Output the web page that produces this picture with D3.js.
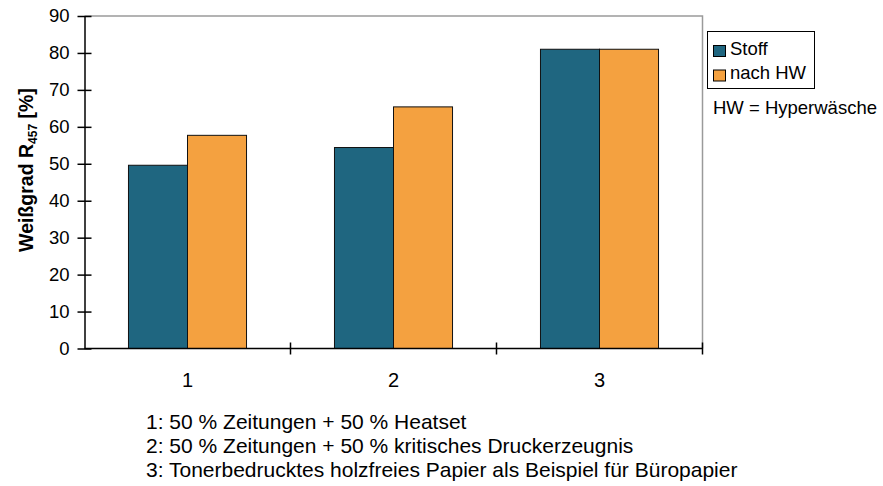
<!DOCTYPE html>
<html>
<head>
<meta charset="utf-8">
<script src="https://cdn.jsdelivr.net/npm/d3@7"></script>
<style>
  html, body { margin: 0; padding: 0; background: #fff; }
  svg { display: block; font-family: "Liberation Sans", Arial, sans-serif; }
</style>
</head>
<body>
<svg id="chart" width="883" height="486"></svg>
<script>
// Sample groups and measured brightness values
const categories = ["1", "2", "3"];
const seriesNames = ["Stoff", "nach HW"];
const stoff = [49.6, 54.4, 81];
const nachHW = [57.7, 65.4, 81];
const yTicks = [0, 10, 20, 30, 40, 50, 60, 70, 80, 90];
const footnotes = [
  "1: 50 % Zeitungen + 50 % Heatset",
  "2: 50 % Zeitungen + 50 % kritisches Druckerzeugnis",
  "3: Tonerbedrucktes holzfreies Papier als Beispiel für Büropapier"
];
const colors = ["#1F6680", "#F4A140"];

const svg = d3.select("#chart");
const plotLeft = 84.5, plotRight = 702.5, plotTop = 16, plotBottom = 348.5;

const x = d3.scaleBand().domain(categories).range([plotLeft, plotRight]).paddingInner(0).paddingOuter(0);
const inner = d3.scaleBand().domain(seriesNames).range([0, x.bandwidth()]).paddingOuter(0.745).paddingInner(0);
const y = d3.scaleLinear().domain([0, 90]).range([plotBottom, plotTop]);

// plot frame (top and right in gray)
svg.append("path")
  .attr("d", `M${plotLeft},${plotTop}H${plotRight}V${plotBottom}`)
  .attr("fill", "none").attr("stroke", "#9a9a9a").attr("stroke-width", 1.5);

// bars
const rows = categories.map((c, i) => ({ c, vals: [stoff[i], nachHW[i]] }));
const g = svg.append("g");
rows.forEach(r => {
  r.vals.forEach((v, j) => {
    g.append("rect")
      .attr("x", x(r.c) + inner(seriesNames[j]))
      .attr("y", y(v))
      .attr("width", inner.bandwidth())
      .attr("height", y(0) - y(v))
      .attr("fill", colors[j])
      .attr("stroke", "#111").attr("stroke-width", 1);
  });
});

// y axis with crossing ticks
const yAxis = svg.append("g").attr("transform", `translate(${plotLeft},0)`)
  .call(d3.axisLeft(y).tickValues(yTicks).tickSize(7).tickPadding(8).tickSizeOuter(0));
yAxis.select(".domain").attr("stroke", "#000").attr("stroke-width", 1.5);
yAxis.selectAll(".tick line").attr("x2", 7).attr("x1", -7).attr("stroke", "#000").attr("stroke-width", 1.5);
yAxis.selectAll(".tick text").attr("font-size", 18.5).attr("fill", "#000")
  .attr("font-family", "Liberation Sans, Arial, sans-serif").attr("x", -15);

// x axis: ticks at category boundaries, labels centered
const xAxis = svg.append("g").attr("transform", `translate(0,${plotBottom})`);
xAxis.append("line").attr("x1", plotLeft).attr("x2", plotRight).attr("stroke", "#000").attr("stroke-width", 1.5);
const bounds = categories.map(c => x(c)).concat([x(categories[categories.length - 1]) + x.bandwidth()]);
xAxis.selectAll("line.tk").data(bounds.slice(1)).join("line").attr("class", "tk")
  .attr("x1", d => d).attr("x2", d => d).attr("y1", -6).attr("y2", 6)
  .attr("stroke", "#000").attr("stroke-width", 1.5);
xAxis.selectAll("text").data(categories).join("text")
  .attr("x", d => x(d) + x.bandwidth() / 2).attr("y", 38)
  .attr("text-anchor", "middle").attr("font-size", 20).text(d => d);

// y axis title with subscript
const title = svg.append("text")
  .attr("transform", "translate(33,170) rotate(-90)")
  .attr("text-anchor", "middle").attr("font-size", 19.5).attr("font-weight", "bold");
title.append("tspan").text("Weißgrad R");
title.append("tspan").attr("font-size", 12).attr("dy", 4).text("457");
title.append("tspan").attr("dy", -4).text(" [%]");

// legend
const lg = svg.append("g");
lg.append("rect").attr("x", 707.5).attr("y", 31.5).attr("width", 107).attr("height", 57)
  .attr("fill", "#fff").attr("stroke", "#000").attr("stroke-width", 1);
seriesNames.forEach((s, i) => {
  lg.append("rect").attr("x", 713.5).attr("y", 45.5 + i * 24.5).attr("width", 12).attr("height", 11)
    .attr("fill", colors[i]).attr("stroke", "#000").attr("stroke-width", 1);
  lg.append("text").attr("x", 730).attr("y", 54.5 + i * 24.5).attr("font-size", 18.5).text(s);
});
svg.append("text").attr("x", 713).attr("y", 114).attr("font-size", 18.5).text("HW = Hyperwäsche");

// footnotes
svg.append("g").selectAll("text").data(footnotes).join("text")
  .attr("x", 146).attr("y", (d, i) => 428.5 + i * 24.3)
  .attr("font-size", 21).text(d => d);
</script>
</body>
</html>
